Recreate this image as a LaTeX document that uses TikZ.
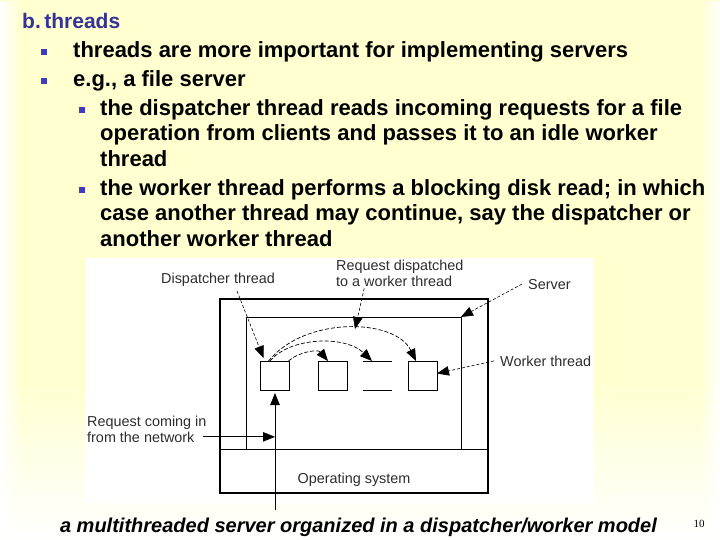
\documentclass[tikz,border=0pt]{standalone}
\usepackage{fontspec}
\setmainfont{Liberation Sans}
\newfontfamily\serifnum{Liberation Serif}
\usetikzlibrary{arrows.meta,fadings}
\definecolor{bgy}{RGB}{255,255,208}
\definecolor{ttl}{RGB}{51,51,153}
\definecolor{bulc}{RGB}{60,60,190}
\definecolor{lbl}{RGB}{45,45,45}
\tikzfading[name=fadeoutright, left color=transparent!0, right color=transparent!100]
\tikzfading[name=fadeoutleft, left color=transparent!100, right color=transparent!0]
\begin{document}
\begin{tikzpicture}[x=1pt,y=-1pt,
  body/.style={anchor=base west, inner sep=0pt, font=\fontsize{22}{26}\selectfont\bfseries},
  bul/.style={fill=bulc, inner sep=0pt, minimum size=6pt},
  lab/.style={anchor=base west, inner sep=0pt, text=lbl, font=\fontsize{14.4}{17}\selectfont},
  thbox/.style={draw, line width=0.9pt, fill=white, minimum width=29pt, minimum height=29pt, inner sep=0pt, outer sep=0pt},
  ghost/.style={minimum width=29pt, minimum height=29pt, inner sep=0pt, outer sep=0pt},
  headtip/.style={-{Triangle[length=12pt,width=9.5pt]}},
  leaderline/.style={headtip, line width=0.6pt, dash pattern=on 3pt off 2pt},
  flowline/.style={headtip, line width=0.7pt, dash pattern=on 4pt off 2pt},
  netline/.style={headtip, line width=0.8pt}
]
\useasboundingbox (0,0) rectangle (720,540);
% background
\fill[bgy] (0,0) rectangle (720,380);
\shade[top color=bgy, bottom color=white] (0,380) rectangle (720,540);
\fill[white, path fading=fadeoutright] (0,0) rectangle (20,540);
\fill[white, path fading=fadeoutleft] (700,0) rectangle (720,540);

% text
\node[font=\fontsize{21}{25}\selectfont\bfseries, text=ttl, anchor=base west, inner sep=0pt] (title) at (22,29) {b.\,threads};
\node[body] (l1) at (73,58) {threads are more important for implementing servers};
\node[body] (l2) at (73,87) {e.g., a file server};
\node[body] (l3) at (100,116) {the dispatcher thread reads incoming requests for a file};
\node[body] (l4) at (100,141) {operation from clients and passes it to an idle worker};
\node[body] (l5) at (100,167) {thread};
\node[body] (l6) at (100,196) {the worker thread performs a blocking disk read; in which};
\node[body] (l7) at (100,221) {case another thread may continue, say the dispatcher or};
\node[body] (l8) at (100,246) {another worker thread};
\node[bul] (b1) at ([xshift=-29pt,yshift=6pt]l1.base west) {};
\node[bul] (b2) at ([xshift=-29pt,yshift=6pt]l2.base west) {};
\node[bul] (b3) at ([xshift=-18pt,yshift=6pt]l3.base west) {};
\node[bul] (b4) at ([xshift=-18pt,yshift=6pt]l6.base west) {};

% diagram
\fill[white] (85,258) rectangle (594,503);
\node[draw, line width=2.6pt, minimum width=268pt, minimum height=194pt, inner sep=0pt, outer sep=0pt] (outer) at (354,396) {};
\node[draw, line width=1pt, minimum width=215pt, minimum height=132pt, inner sep=0pt, outer sep=0pt] (server) at (353.5,383) {};
\draw[line width=1pt] (outer.west |- server.south) -- (outer.east |- server.south);
\node[lab, anchor=base] (os) at (354,483) {Operating system};

\node[thbox] (disp) at (275,375.5) {};
\node[thbox] (w1) at (333,375.5) {};
\node[ghost] (w2) at (377.5,375.5) {};
\draw[line width=0.9pt] (w2.north west) -- (w2.north east);
\draw[line width=0.9pt] (w2.south west) -- (w2.south east);
\node[thbox] (w3) at (422.5,375.5) {};

\node[lab] (dlab) at (161,283) {Dispatcher thread};
\node[lab] (rlab1) at (336,270) {Request dispatched};
\node[lab] (rlab2) at (336,286) {to a worker thread};
\node[lab] (slab) at (528,289) {Server};
\node[lab] (wlab) at (500,366) {Worker thread};
\node[lab] (net1) at (87,426) {Request coming in};
\node[lab] (net2) at (87,442) {from the network};

% network arrows
\coordinate (netin) at (275,510);
\draw[netline] (netin) -- ([yshift=-3pt]netin |- disp.south);
\draw[netline] ([xshift=8pt]net2.east) -- (netin |- net2.east);

% dispatch curves
\draw[flowline] ([xshift=-6.5pt]disp.north) .. controls (305,316) and (395,318) .. ([xshift=8pt]w3.north west);
\draw[flowline] ([xshift=-5pt]disp.north) .. controls (290,337) and (345,335) .. ([xshift=9pt]w2.north west);
\draw[flowline] ([xshift=-1pt]disp.north east) .. controls (298,352) and (318,349) .. ([xshift=-5pt]w1.north);

% leaders
\coordinate (dl0) at (237,291);
\draw[leaderline] (dl0) -- ([xshift=3pt,yshift=3pt]disp.north west);
\coordinate (rd1) at (355,329);
\draw[leaderline] ([xshift=-30pt,yshift=-2pt]rlab2.south) -- (rd1);
\draw[leaderline] ([xshift=-6pt]slab.west) -- (server.north east);
\draw[leaderline] ([xshift=-6pt]wlab.west) -- ([yshift=2pt]w3.east);

% caption and page number
\node[anchor=base, inner sep=0pt, font=\fontsize{20}{24}\selectfont\bfseries\itshape] (cap) at (358.5,532) {a multithreaded server organized in a dispatcher/worker model};
\node[anchor=base, inner sep=0pt, font=\serifnum\fontsize{11}{13}\selectfont] (pg) at (699,527) {10};
\end{tikzpicture}
\end{document}
